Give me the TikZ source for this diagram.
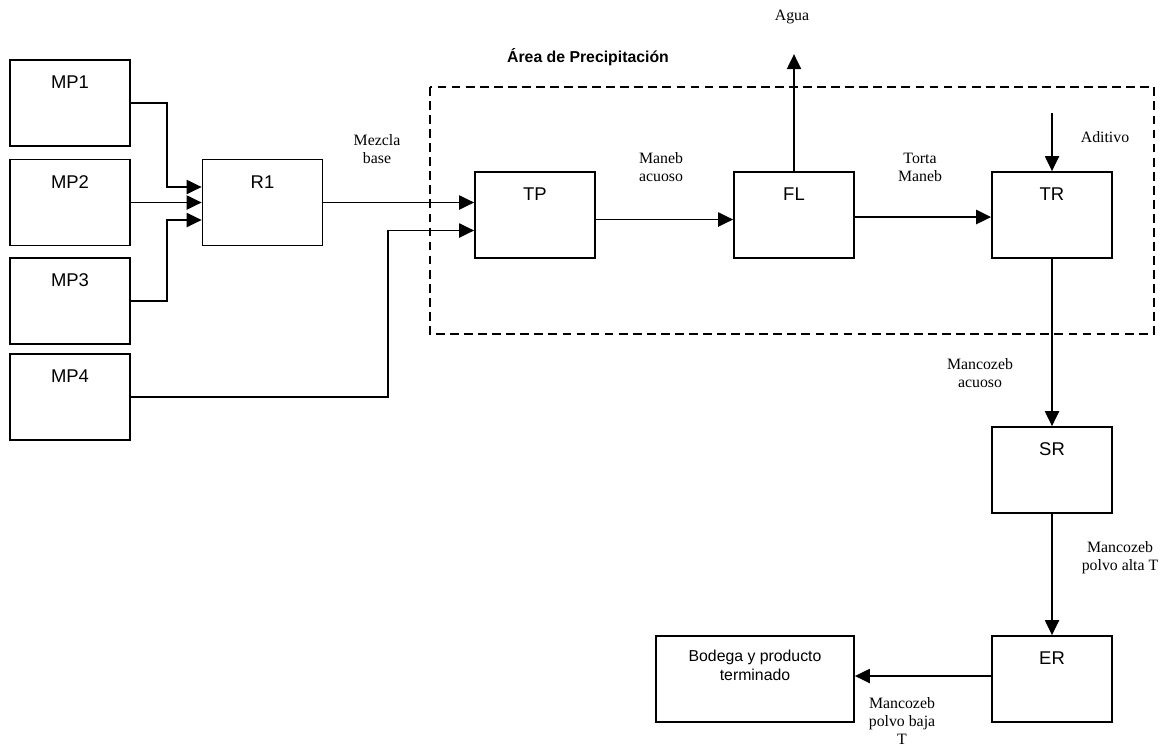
\documentclass[tikz,border=0pt]{standalone}
\usepackage{fontspec}
\setmainfont{Liberation Serif}
\setsansfont{Liberation Sans}
\usetikzlibrary{arrows.meta}

\begin{document}
\begin{tikzpicture}[x=0.02cm, y=-0.02cm,
	caja/.style={draw, line width=1pt, minimum width=2.4cm, minimum height=1.72cm, inner sep=0pt},
	rotulo/.style={anchor=north, inner sep=0pt, font=\sffamily\fontsize{10.5}{12}\selectfont},
	corriente/.style={align=center, inner sep=0pt, font=\fontsize{9}{10.3}\selectfont},
	flecha/.style={line width=1pt, -{Triangle[length=8.5pt, width=8pt]}}]
	\useasboundingbox (0,0) rectangle (1169,748);
	
	\node[caja] (mp1) at (70,103) {};
	\node[caja] (mp2) at (70,202.5) {};
	\node[caja] (mp3) at (70,301) {};
	\node[caja] (mp4) at (70,397) {};
	\node[caja] (r1) at (262.5,202.5) {};
	\node[caja] (tp) at (535,215) {};
	\node[caja] (fl) at (794,215) {};
	\node[caja] (tr) at (1052,215) {};
	\node[caja] (sr) at (1052,470) {};
	\node[caja] (er) at (1052,679) {};
	\node[caja, minimum width=3.96cm] (bod) at (755,679) {};
	
	\foreach \n/\t in {mp1/MP1, mp2/MP2, mp3/MP3, mp4/MP4, r1/R1, tp/TP, fl/FL, tr/TR, sr/SR, er/ER}
		\node[rotulo] (t\n) at ([yshift=-0.33cm]\n.north) {\t};
	\node[rotulo, align=center, font=\sffamily\fontsize{9}{10.3}\selectfont] (tbod) at ([yshift=-0.3cm]bod.north) {Bodega y producto\\terminado};
	
	\draw[line width=0.9pt, dash pattern=on 5pt off 3pt] (430,87) rectangle (1154,334);
	\node[font=\sffamily\bfseries\fontsize{9}{10.3}\selectfont, inner sep=0pt] (area) at (588,57) {Área de Precipitación};
	
	\draw[flecha] (mp1.east) -- ++(36,0) |- ([yshift=0.31cm]r1.west);
	\draw[flecha] (mp2.east) -- (r1.west);
	\draw[flecha] (mp3.east) -- ++(36,0) |- ([yshift=-0.35cm]r1.west);
	\draw[flecha] (r1.east) -- (r1.east -| tp.west);
	\draw[flecha] (mp4.east) -- ++(257,0) |- ([yshift=-0.31cm]tp.west);
	\draw[flecha] ([yshift=-0.09cm]tp.east) -- ([yshift=-0.09cm]fl.west);
	\draw[flecha, line width=1.4pt] ([yshift=-0.04cm]fl.east) -- ([yshift=-0.04cm]tr.west);
	\draw[flecha] (fl.north) -- ++(0,-117);
	\coordinate (aditivo) at (1052,113);
	\draw[flecha] (aditivo) -- (tr.north);
	\draw[flecha] (tr.south) -- (sr.north);
	\draw[flecha] (sr.south) -- (er.north);
	\draw[flecha] ([yshift=0.06cm]er.west) -- ([yshift=0.06cm]bod.east);
	
	\node[corriente] (lmezcla) at (377,149) {Mezcla\\base};
	\node[corriente] (lmaneb) at (661,167.5) {Maneb\\acuoso};
	\node[corriente] (ltorta) at (920,167.5) {Torta\\Maneb};
	\node[corriente] (lagua) at (792,17) {Agua};
	\node[corriente] (laditivo) at (1105,137) {Aditivo};
	\node[corriente] (lacuoso) at (980,373.5) {Mancozeb\\acuoso};
	\node[corriente] (lalta) at (1120,558) {Mancozeb\\polvo alta T};
	\node[corriente] (lbaja) at (902,721) {Mancozeb\\polvo baja\\T};
	
\end{tikzpicture}
\end{document}
